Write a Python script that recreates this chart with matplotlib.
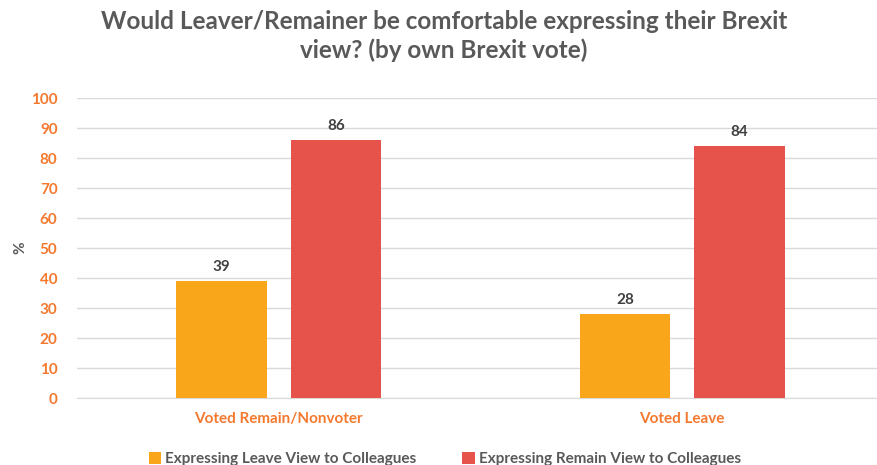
import numpy as np
import matplotlib.pyplot as plt

plt.rcParams['font.family'] = ['Lato', 'DejaVu Sans']

categories = ['Voted Remain/Nonvoter', 'Voted Leave']
leave_view = [39, 28]
remain_view = [86, 84]
series_names = ['Expressing Leave View to Colleagues', 'Expressing Remain View to Colleagues']

ORANGE = '#FAA61A'
RED = '#E5534B'
TICK = '#F4792F'
GREY = '#595959'

fig = plt.figure(figsize=(8.78, 4.65), dpi=100)
ax = fig.add_axes([77 / 878, 1 - 398 / 465, 807 / 878, 300 / 465])

x = np.arange(len(categories))
w = 0.225
off = 0.142
b1 = ax.bar(x - off, leave_view, w, color=ORANGE, label=series_names[0], zorder=3)
b2 = ax.bar(x + off, remain_view, w, color=RED, label=series_names[1], zorder=3)

# value labels on top of the bars
for bars, vals in [(b1, leave_view), (b2, remain_view)]:
    for b, v in zip(bars, vals):
        ax.text(b.get_x() + b.get_width() / 2, b.get_height() + 2.5, str(v),
                ha='center', va='bottom', fontsize=11, fontweight='bold', color='#404040')

ax.set_xlim(-0.5, 1.5)
ax.set_ylim(0, 100)
ax.set_yticks(range(0, 101, 10))
ax.yaxis.grid(True, color='#D9D9D9', linewidth=1, zorder=0)
ax.set_axisbelow(True)
for s in ['top', 'right', 'left']:
    ax.spines[s].set_visible(False)
ax.spines['bottom'].set_color('#D9D9D9')
ax.tick_params(axis='both', length=0)
ax.tick_params(axis='y', pad=14)
ax.tick_params(axis='x', pad=10)
ax.set_xticks(x)
ax.set_xticklabels(categories)
for lbl in ax.get_xticklabels() + ax.get_yticklabels():
    lbl.set_color(TICK)
    lbl.set_fontweight('bold')
    lbl.set_fontsize(11)

ax.set_ylabel('%', fontsize=11, fontweight='bold', color=GREY, rotation=90, labelpad=0)
ax.yaxis.set_label_coords(-50 / 807, 0.5)

fig.suptitle('Would Leaver/Remainer be comfortable expressing their Brexit\nview? (by own Brexit vote)',
             x=444 / 878, y=1 - 10 / 465, fontsize=17.5, fontweight='bold', color=GREY,
             linespacing=1.3)

fig.legend(handles=[b1, b2], loc='center', bbox_to_anchor=(445 / 878, 1 - 459 / 465),
           ncol=2, frameon=False, handlelength=0.8, handleheight=0.8,
           handletextpad=0.3, columnspacing=3.0, labelcolor=GREY,
           prop={'weight': 'bold', 'size': 11})

fig.savefig('out.png', dpi=100)
